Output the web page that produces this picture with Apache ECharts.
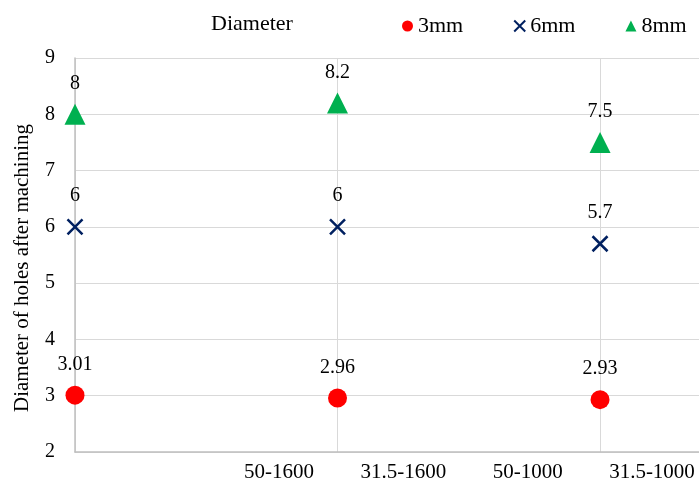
<!DOCTYPE html>
<html>
<head>
<meta charset="utf-8">
<script src="https://cdn.jsdelivr.net/npm/echarts@6/dist/echarts.min.js"></script>
<style>
html,body{margin:0;padding:0;background:#fff;}
#c{width:699px;height:484px;}
</style>
</head>
<body>
<div id="c"></div>
<script>
var categories = ['50-1600', '31.5-1600', '50-1000', '31.5-1000'];
var xPositions = [0, 1, 2];
var d3mm = [3.01, 2.96, 2.93];
var d6mm = [6, 6, 5.7];
var d8mm = [8, 8.2, 7.5];
var seriesNames = ['3mm', '6mm', '8mm'];
var legendTitle = 'Diameter';
var yName = 'Diameter of holes after machining';

var FONT = '"Liberation Serif", "DejaVu Serif", serif';
function pts(vals){ return vals.map(function(v,i){ return [xPositions[i], v]; }); }

var chart = echarts.init(document.getElementById('c'), null, {renderer:'canvas'});
var labelStyle = {show:true, position:'top', color:'#000', fontFamily:FONT, fontSize:20, opacity:1};
chart.setOption({
  animation:false,
  backgroundColor:'#fff',
  title:{text:legendTitle, left:206, top:8, textStyle:{fontFamily:FONT, fontSize:22, fontWeight:'normal', color:'#000'}},
  legend:{
    left:397, top:10, itemWidth:11, itemHeight:11, itemGap:50,
    textStyle:{fontFamily:FONT, fontSize:22, color:'#000'},
    data:seriesNames
  },
  grid:[
    {left:75, right:0, top:58, bottom:32},
    {left:279, right:47, top:58, bottom:32}
  ],
  xAxis:[
    {type:'value', gridIndex:0, min:0, max:2.377, interval:1,
     axisLine:{show:true, onZero:false, lineStyle:{color:'#bfbfbf', width:1.5}},
     axisTick:{show:false}, axisLabel:{show:false},
     splitLine:{show:true, lineStyle:{color:'#d9d9d9', width:1}}},
    {type:'category', gridIndex:1, data:categories, boundaryGap:false,
     axisLine:{show:false}, axisTick:{show:false}, splitLine:{show:false},
     axisLabel:{fontFamily:FONT, fontSize:21, color:'#000', margin:10, interval:0}}
  ],
  yAxis:[
    {type:'value', gridIndex:0, min:2, max:9, interval:1,
     name:yName, nameLocation:'middle', nameGap:42, nameRotate:90,
     nameTextStyle:{fontFamily:FONT, fontSize:21, color:'#000', padding:[0,26,0,0]},
     axisLine:{show:true, lineStyle:{color:'#bfbfbf', width:1.5}},
     axisTick:{show:false},
     axisLabel:{fontFamily:FONT, fontSize:20, color:'#000', margin:20},
     splitLine:{show:true, lineStyle:{color:'#d9d9d9', width:1}}},
    {type:'value', gridIndex:1, min:2, max:9, show:false}
  ],
  series:[
    {name:seriesNames[0], type:'scatter', xAxisIndex:0, yAxisIndex:0, data:pts(d3mm),
     symbol:'circle', symbolSize:19, itemStyle:{color:'#ff0000', opacity:1},
     label:Object.assign({}, labelStyle, {distance:11})},
    {name:seriesNames[1], type:'scatter', xAxisIndex:0, yAxisIndex:0, data:pts(d6mm),
     symbol:'path://M0,0L10,10M10,0L0,10', symbolSize:15,
     itemStyle:{color:'rgba(0,0,0,0)', borderColor:'#002060', borderWidth:2.5, opacity:1},
     label:Object.assign({}, labelStyle, {distance:12})},
    {name:seriesNames[2], type:'scatter', xAxisIndex:0, yAxisIndex:0, data:pts(d8mm),
     symbol:'triangle', symbolSize:21, itemStyle:{color:'#00b050', opacity:1},
     label:Object.assign({}, labelStyle, {distance:10})}
  ]
});
</script>
</body>
</html>
